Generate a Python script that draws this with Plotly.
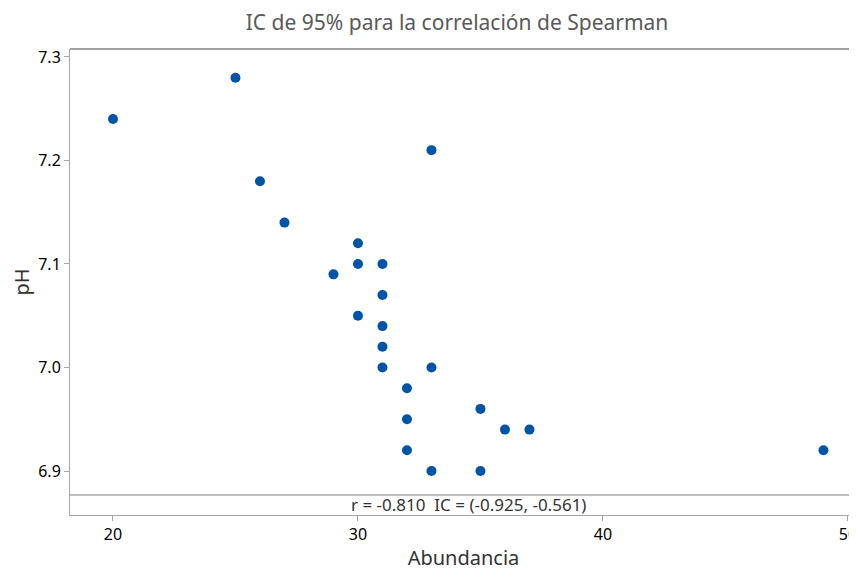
import plotly.graph_objects as go

# Abundancia vs pH
abundancia = [20, 25, 26, 27, 33, 30, 30, 31, 29, 31, 30, 31, 31, 31, 33, 32, 35, 32, 36, 37, 32, 49, 33, 35]
ph = [7.24, 7.28, 7.18, 7.14, 7.21, 7.12, 7.10, 7.10, 7.09, 7.07, 7.05, 7.04, 7.02, 7.00, 7.00,
      6.98, 6.96, 6.95, 6.94, 6.94, 6.92, 6.92, 6.90, 6.90]

x_ticks = [20, 30, 40, 50]
y_ticks = [6.9, 7.0, 7.1, 7.2, 7.3]
stats_text = "r = -0.810  IC = (-0.925, -0.561)"
strip_y = 6.8768  # separator between data area and the stats strip

font = "Noto Sans, Open Sans, sans-serif"

fig = go.Figure()
fig.add_trace(go.Scatter(
    x=abundancia, y=ph, mode="markers",
    marker=dict(color="#0054a6", size=10),
    showlegend=False,
))

# frame lines: top border and the strip separator
fig.add_shape(type="line", xref="paper", yref="paper", x0=0, x1=1, y0=1, y1=1,
              line=dict(color="#7f7f7f", width=1.5))
fig.add_shape(type="line", xref="paper", yref="y", x0=0, x1=1, y0=strip_y, y1=strip_y,
              line=dict(color="#7f7f7f", width=1.2))

fig.add_annotation(text=stats_text, xref="x", yref="paper", x=34.5, y=0.0215,
                   yanchor="middle", showarrow=False,
                   font=dict(family=font, size=17, color="#333333"))

# page body adds an 8px offset, margins compensate for it
fig.update_layout(
    width=857, height=569,
    margin=dict(l=62, r=8, t=41, b=62),
    paper_bgcolor="white", plot_bgcolor="white",
    title=dict(text="IC de 95% para la correlación de Spearman", x=0.524, xanchor="center",
               y=0.975, yanchor="middle", automargin=False,
               font=dict(family=font, size=21, color="#595959")),
    font=dict(family=font),
)
fig.update_xaxes(
    range=[18.245, 50.37], tickvals=x_ticks, ticks="outside", ticklen=5,
    tickcolor="#a6a6a6", showline=True, linecolor="#a6a6a6", linewidth=1,
    showgrid=False, zeroline=False, automargin=False,
    tickfont=dict(family=font, size=16, color="#000000"),
    title=dict(text="Abundancia", font=dict(family=font, size=20, color="#333333"), standoff=6),
)
fig.update_yaxes(
    range=[6.8575, 7.3077], tickvals=y_ticks, tickformat=".1f", ticks="outside", ticklen=5,
    tickcolor="#a6a6a6", showline=True, linecolor="#a6a6a6", linewidth=1,
    showgrid=False, zeroline=False, automargin=False,
    tickfont=dict(family=font, size=16, color="#000000"),
    title=dict(text="pH", font=dict(family=font, size=20, color="#333333"), standoff=18),
)

fig.write_html("out.html")
